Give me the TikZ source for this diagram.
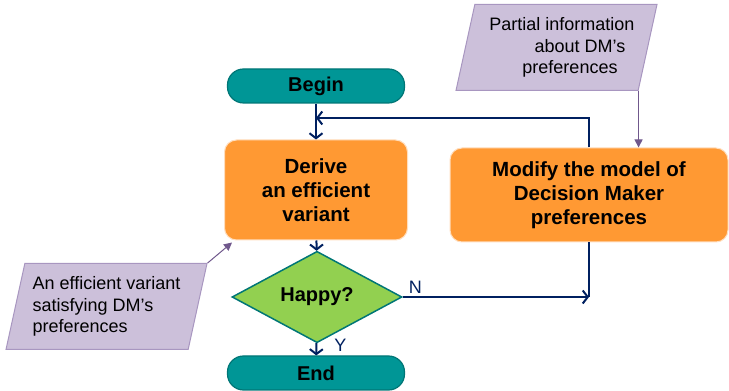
\documentclass[tikz,border=0pt]{standalone}
\usepackage{fontspec}
\setmainfont{Liberation Sans}
\usetikzlibrary{arrows.meta,shapes.geometric}
\definecolor{fc_teal}{RGB}{0,150,150}
\definecolor{fc_tealdark}{RGB}{0,118,118}
\definecolor{fc_orange}{RGB}{255,153,51}
\definecolor{fc_orangeedge}{RGB}{255,222,190}
\definecolor{fc_green}{RGB}{146,208,80}
\definecolor{fc_lilac}{RGB}{204,192,218}
\definecolor{fc_lilacedge}{RGB}{168,150,192}
\definecolor{fc_navy}{RGB}{0,32,96}
\definecolor{fc_purple}{RGB}{112,88,140}

\begin{document}
\begin{tikzpicture}[x=1pt,y=1pt,
          term/.style={draw=fc_tealdark, line width=1.2pt, fill=fc_teal, rounded corners=16pt,
                       minimum width=177pt, minimum height=34pt, inner sep=0pt,
                       font=\fontsize{20}{24}\selectfont\bfseries},
          proc/.style={draw=fc_orangeedge, line width=1pt, fill=fc_orange, rounded corners=12pt,
                       align=center, inner sep=0pt, font=\fontsize{20.5}{24}\selectfont\bfseries},
          dec/.style={diamond, draw=fc_tealdark, line width=1.5pt, fill=fc_green,
                      minimum width=170pt, minimum height=71pt, inner sep=0pt,
                      font=\fontsize{20}{24}\selectfont\bfseries},
          info/.style={trapezium, trapezium left angle=72.5, trapezium right angle=107.5,
                       trapezium stretches body, draw=fc_lilacedge, line width=1pt, fill=fc_lilac,
                       minimum width=201pt, minimum height=86pt, inner sep=0pt,
                       font=\fontsize{18}{21.5}\selectfont},
          lbl/.style={inner sep=2pt, font=\fontsize{18}{20}\selectfont},
          arr/.style={-{Straight Barb[length=5pt,width=13pt]}, fc_navy, line width=2pt},
          link/.style={fc_navy, line width=2pt},
          parr/.style={-{Triangle[length=8pt,width=8pt]}, fc_purple, line width=1pt}]
        \useasboundingbox (0,0) rectangle (729,391);
        \node[term] (begin)  at (316,305) {Begin};
        \node[proc, minimum width=183pt, minimum height=100pt] (derive) at (316,201)
          {Derive\\an efficient\\variant};
        \node[proc, minimum width=278pt, minimum height=94pt] (modify) at (589,196)
          {Modify the model of\\Decision Maker\\preferences};
        \node[dec]  (happy)  at (317,94) {Happy?};
        \node[term] (finish) at (316,18) {End};
        \node[info, align=left]   (variant) at (106.5,84.5)
          {An efficient variant\\satisfying DM’s\\preferences};
        \node[info, align=center] (partial) at (556.5,343.5)
          {\hspace*{11pt}Partial information\\\hspace*{47pt}about DM’s\\\hspace*{27pt}preferences};
        \coordinate (join) at (316,273);
        \coordinate (turn) at (modify.south |- happy.east);
        % main flow
        \draw[arr] (begin)  -- (derive);
        \draw[arr] (derive) -- (happy);
        \draw[arr] (happy)  -- node[lbl, pos=0, anchor=west, xshift=15pt, yshift=-2pt]{Y} (finish);
        \draw[arr] (happy.east) -- node[lbl, pos=0, anchor=south west, xshift=3pt]{N} (turn);
        \draw[link] (turn) -- (modify.south);
        \draw[arr] (modify.north) |- (join);
        % inputs and outputs
        \draw[parr] (partial.bottom right corner) -- (partial.bottom right corner |- modify.north);
        \draw[parr] (variant.top right corner) -- ([shift={(8pt,-2pt)}]derive.south west);
      \end{tikzpicture}
\end{document}
